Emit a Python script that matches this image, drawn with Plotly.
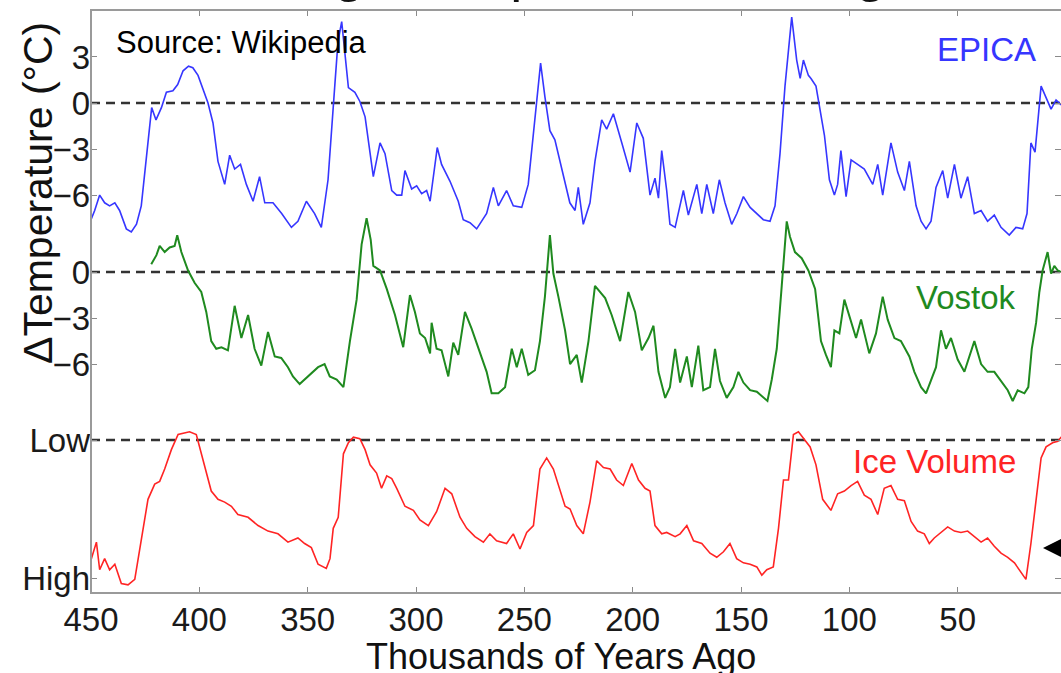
import plotly.graph_objects as go

# ---------------- data ----------------
epica_age = [450, 448.3, 446, 443.7, 441.4, 439, 436.8, 433.7, 431.4, 429, 426.8, 424.5, 422, 420, 417.5, 415.2,
             412.2, 410, 407.5, 405, 403, 400.6, 398.3, 396, 393.7, 391.4, 388.3, 386, 383.7, 381, 378.3, 375.2,
             372.2, 369.8, 366, 362, 357.5, 354.5, 350.6, 346.8, 343.7, 340.6, 337.5, 336, 334.3, 332.8, 331.2,
             328.2, 325.9, 323.5, 319.7, 316.6, 314.3, 311.2, 308.9, 306.6, 305.1, 302, 299.7, 297.4, 295.1, 293.5,
             290.2, 288.2, 284.3, 280.5, 278.2, 275.1, 272, 267.4, 264.3, 262, 258.2, 255.1, 251.2, 248.2, 245.1,
             242.5, 240.5, 238.2, 235.9, 232, 229, 226.6, 225.1, 222.8, 219.7, 217.4, 214.3, 212, 208.9, 205,
             201.2, 198.1, 195.1, 192, 189.7, 188.1, 186.6, 184.3, 182.8, 180.4, 176.6, 174.3, 170.4, 168.1, 165.8,
             162.8, 160, 157.4, 154.3, 151.9, 148.9, 145.8, 142.7, 139.7, 136.6, 134.3, 132, 129.7, 126.6, 124.3,
             122.7, 121.2, 118.9, 117.7, 115.4, 113.9, 111.5, 109.2, 106.9, 105.4, 103.9, 101.5, 99.2, 96.2, 93.1,
             89.2, 86.9, 84.6, 80.8, 77.7, 74.6, 72.3, 69.2, 66.9, 64.6, 62.3, 60, 56.9, 54.6, 51.5, 48.5, 45.4,
             42.3, 39.2, 36.2, 33.1, 30, 26.2, 23.1, 20, 18, 16.2, 14.3, 11.5, 9.2, 6.9, 4.6, 2.3, 0]
epica_temp = [-7.6, -7.0, -6.0, -6.5, -6.7, -6.5, -7.0, -8.2, -8.4, -7.9, -6.7, -3.8, -0.3, -1.1, -0.3, 0.7,
              0.8, 1.2, 2.1, 2.4, 2.3, 1.8, 0.9, 0.0, -1.3, -3.8, -5.3, -3.4, -4.3, -4.0, -5.3, -6.4,
              -4.8, -6.5, -6.5, -7.2, -8.1, -7.7, -6.4, -7.2, -8.1, -5.0, 1.1, 4.0, 5.3, 3.1, 1.0,
              0.7, 0.1, -0.9, -4.8, -2.6, -3.3, -5.7, -6.0, -6.0, -4.4, -5.6, -5.4, -5.9, -5.7, -6.4,
              -2.9, -4.0, -5.1, -6.4, -7.6, -7.8, -8.2, -7.2, -5.5, -6.7, -5.7, -6.7, -6.8, -5.3, -0.9,
              2.6, 0.4, -1.8, -2.4, -4.8, -6.5, -7.0, -5.5, -7.9, -6.5, -3.8, -1.1, -1.7, -0.7, -2.6,
              -4.5, -1.3, -2.3, -6.0, -4.9, -6.2, -3.1, -5.7, -7.9, -8.1, -5.7, -7.3, -5.3, -7.2, -5.3,
              -7.2, -5.0, -6.5, -7.9, -7.2, -6.1, -6.8, -7.2, -7.6, -7.7, -6.7, -3.3, 1.1, 5.6, 2.8,
              1.6, 2.8, 1.8, 1.6, 1.1, -0.1, -2.1, -5.0, -6.0, -5.3, -3.1, -6.1, -3.7, -4.0, -4.3,
              -5.3, -4.0, -6.0, -2.6, -4.5, -5.7, -3.8, -6.7, -7.7, -8.2, -7.7, -5.5, -4.4, -6.2, -4.0, -6.2, -4.8,
              -7.2, -7.0, -7.7, -7.3, -8.1, -8.6, -8.1, -8.2, -7.2, -2.6, -3.2, 1.1, 0.4, -0.4, 0.2, -0.1, 0.0]

vostok_age = [422.2, 419.8, 418.3, 416, 413.7, 411.4, 410.2, 408.3, 405.2, 402.2, 399.1, 396.8, 394.5, 392.2,
              389.8, 386.8, 383.7, 380.6, 377.5, 374.5, 371.4, 368.3, 365.2, 362.2, 359.1, 356.8, 353.7, 349.8,
              345.2, 342.2, 339.8, 336.6, 333.5, 330.5, 327.4, 325.1, 322.8, 320.9, 319.7, 316.6, 313.5, 309.7,
              305.9, 302.8, 300.5, 298.2, 295.8, 293.5, 292.8, 290.5, 288.2, 285.1, 282.8, 280.5, 277.4, 274.3,
              270.5, 267.4, 265.1, 262, 258.9, 255.8, 253.5, 251.2, 248.2, 245.1, 242.8, 240.5, 238.2, 236.6,
              234.3, 231.2, 228.9, 225.8, 223.5, 220.4, 217.4, 215.1, 212.7, 209.7, 205.8, 202, 198.9, 195.8,
              192.7, 190.4, 188.1, 185, 182.8, 180.4, 178.1, 175, 172.7, 169.7, 167.4, 164.3, 162, 159.7, 156.6,
              153.5, 151.2, 148.9, 145.8, 142.7, 139.7, 137.8, 135.8, 133.5, 131.2, 128.9, 127.4, 125.1, 122,
              118.9, 115.8, 113.1, 110.8, 108.5, 106.9, 104.6, 102.3, 99.2, 96.9, 94.6, 90.8, 87.7, 84.6, 82.3,
              79.2, 76.2, 72.3, 70, 66.9, 64.6, 62.3, 60, 57.7, 55.4, 53.1, 50, 46.9, 44.6, 42.3, 39.2, 36.2,
              33.1, 30, 26.9, 24.6, 22.3, 19.2, 17.4, 15.8, 13.8, 12.3, 10.8, 8.5, 6.9, 5.4, 3.8, 2.3, 0.5]
vostok_temp = [0.5, 1.1, 1.7, 1.3, 1.6, 1.7, 2.4, 1.3, 0.1, -0.7, -1.3, -2.6, -4.5, -5.0,
               -4.9, -5.1, -2.2, -4.3, -2.8, -5.0, -6.1, -3.9, -5.5, -5.6, -6.2, -6.8, -7.3, -6.8,
               -6.2, -6.0, -6.8, -7.0, -7.5, -4.5, -1.8, 1.8, 3.5, 2.1, 0.4, 0.1, -1.1, -2.8,
               -4.9, -1.5, -2.6, -4.0, -4.3, -5.3, -3.3, -5.0, -5.1, -6.8, -4.6, -5.4, -2.6, -3.7,
               -5.3, -6.5, -7.9, -7.9, -7.5, -5.0, -6.2, -5.0, -6.7, -6.4, -4.5, -1.6, 2.4, -0.1,
               -1.6, -3.8, -6.0, -5.4, -7.2, -4.5, -0.9, -1.3, -1.7, -2.8, -4.5, -1.3, -2.6, -5.1,
               -4.3, -3.5, -6.5, -8.2, -7.5, -5.0, -7.2, -5.5, -7.5, -4.8, -7.7, -7.5, -5.0, -7.1, -8.2,
               -7.5, -6.5, -7.2, -7.7, -7.8, -8.2, -8.4, -7.0, -5.0, -0.9, 3.3, 2.3, 1.3, 0.9,
               0.1, -1.1, -4.5, -5.4, -6.2, -3.8, -4.0, -1.8, -3.3, -4.3, -3.1, -5.3, -4.0, -1.6, -3.1,
               -4.3, -4.5, -5.5, -6.5, -7.5, -7.9, -7.0, -6.2, -3.8, -5.0, -4.3, -5.7, -6.5, -5.5, -4.5, -6.0, -6.5,
               -6.5, -7.1, -7.7, -8.4, -7.7, -7.9, -7.5, -5.0, -3.3, -1.3, 0.1, 1.3, -0.1, 0.4, 0.1, 0.0, 0.2]

ice_age = [450, 447.5, 446, 443.7, 441.4, 439, 436, 432.9, 429.8, 427.5, 426, 423.7, 420.6, 418.3, 416, 412.9,
           409.8, 406.8, 404.5, 401.4, 399.1, 396.8, 394.5, 391.4, 388.3, 385.2, 382.2, 377.5, 372.9, 368.3,
           363.7, 359.1, 354.5, 351.4, 348.3, 345.2, 341.4, 339.7, 338.2, 335.9, 333.5, 331.2, 328.9, 325.9,
           323.5, 321.2, 318.2, 315.9, 313.5, 311.2, 308.9, 305.1, 301.2, 298.2, 294.3, 290.5, 286.6, 283.5,
           279.7, 276.6, 272.8, 268.9, 265.9, 262.8, 258.2, 255.1, 252, 248.9, 245.8, 242.8, 239.7, 236.6,
           233.5, 231.2, 228.9, 225.8, 222.8, 219.7, 216.6, 213.5, 210.4, 207.4, 204.3, 200.4, 197.3, 194.3,
           192, 189.7, 186.6, 184.3, 180.4, 178.1, 175, 171.9, 168.1, 164.3, 161.2, 158.1, 155.1, 152, 148.9,
           145.8, 142.7, 140.4, 138.1, 135.1, 132.7, 130.4, 128.1, 125.8, 123.5, 121.2, 118.1, 115.4, 112.3,
           108.5, 105.4, 102.3, 99.2, 96.2, 93.1, 90, 86.9, 83.9, 80.8, 77.7, 74.6, 71.5, 68.5, 65.4, 63.1,
           60.8, 57.7, 54.6, 51.5, 48.5, 45.4, 42.3, 39.2, 36.2, 33.1, 30, 26.9, 23.8, 20.8, 18.5, 16.2, 13.8,
           11.5, 9.2, 6.2, 3.8, 2.3, 0]
ice_vol = [0.13, 0.26, 0.06, 0.14, 0.06, 0.10, -0.04, -0.05, -0.01, 0.22, 0.36, 0.57, 0.68, 0.70, 0.79, 0.93,
           1.04, 1.05, 1.06, 1.04, 0.90, 0.76, 0.63, 0.57, 0.55, 0.52, 0.46, 0.44, 0.38, 0.34,
           0.32, 0.26, 0.29, 0.25, 0.22, 0.10, 0.07, 0.14, 0.36, 0.44, 0.90, 0.98, 1.02, 1.01,
           0.93, 0.82, 0.76, 0.65, 0.74, 0.72, 0.65, 0.52, 0.49, 0.42, 0.38, 0.48, 0.65, 0.61,
           0.44, 0.36, 0.30, 0.26, 0.32, 0.27, 0.25, 0.32, 0.21, 0.33, 0.38, 0.79, 0.87, 0.79,
           0.63, 0.52, 0.50, 0.38, 0.32, 0.55, 0.85, 0.80, 0.79, 0.71, 0.67, 0.83, 0.71, 0.65,
           0.63, 0.38, 0.32, 0.33, 0.30, 0.32, 0.38, 0.27, 0.25, 0.18, 0.15, 0.19, 0.25, 0.14, 0.11,
           0.10, 0.08, 0.02, 0.06, 0.08, 0.36, 0.71, 0.71, 1.04, 1.06, 1.01, 0.95, 0.82, 0.57,
           0.49, 0.61, 0.63, 0.67, 0.70, 0.60, 0.57, 0.46, 0.65, 0.67, 0.57, 0.56, 0.41, 0.34, 0.32, 0.25,
           0.29, 0.33, 0.37, 0.34, 0.33, 0.34, 0.30, 0.26, 0.29, 0.23, 0.18, 0.15, 0.11, 0.04, -0.01, 0.25, 0.57,
           0.87, 0.95, 0.98, 0.99, 1.02, 1.02]

x_ticks = [450, 400, 350, 300, 250, 200, 150, 100, 50, 0]
epica_ticks = [3, 0, -3, -6]
vostok_ticks = [0, -3, -6]
ice_ticks = [0, 1]
ice_ticktext = ["High", "Low"]

# ---------------- figure ----------------
FONT = "Liberation Sans, Arial, sans-serif"
W, H = 1061, 673
L, R, T, B = 91, 0, 10, 80
PW, PH = W - L - R, H - T - B


def px(xp):
    return (xp - L) / PW


def py(yp):
    return (H - B - yp) / PH


fig = go.Figure()
fig.add_trace(go.Scatter(x=epica_age, y=epica_temp, mode="lines", yaxis="y",
                         line=dict(color="#3636ff", width=1.6), showlegend=False))
fig.add_trace(go.Scatter(x=vostok_age, y=vostok_temp, mode="lines", yaxis="y2",
                         line=dict(color="#1f8a1f", width=2.0), showlegend=False))
fig.add_trace(go.Scatter(x=ice_age, y=ice_vol, mode="lines", yaxis="y3",
                         line=dict(color="#ff2424", width=1.6), showlegend=False))

tickfont = dict(family=FONT, size=33, color="#1a1a1a")
common_y = dict(showgrid=False, zeroline=False, showline=False, ticks="inside", ticklen=6,
                tickcolor="#8a8a8a", mirror="ticks", tickfont=tickfont, anchor="x", side="left")

fig.update_layout(
    width=W, height=H, margin=dict(l=L, r=R, t=T, b=B),
    paper_bgcolor="white", plot_bgcolor="white",
    xaxis=dict(range=[450, 450 - PW / 2.1667], tickvals=x_ticks, showgrid=False, zeroline=False,
               showline=False, ticks="inside", ticklen=6, tickcolor="#8a8a8a", mirror="ticks",
               tickfont=tickfont, ticklabelstandoff=4),
    yaxis=dict(range=[-31.92, 6.06], tickvals=epica_ticks, **common_y),
    yaxis2=dict(range=[-20.91, 17.07], tickvals=vostok_ticks, overlaying="y", **common_y),
    yaxis3=dict(range=[-0.1087, 4.116], tickvals=ice_ticks, ticktext=ice_ticktext,
                overlaying="y", **common_y),
)

# frame (right edge lies outside the visible window)
fig.add_shape(type="rect", xref="paper", yref="paper", x0=0, x1=1.01, y0=0, y1=1,
              line=dict(color="#9a9a9a", width=2), layer="above")
# dashed reference lines
for yref, yv in [("y", 0), ("y2", 0), ("y3", 1)]:
    fig.add_shape(type="line", xref="paper", yref=yref, x0=0, x1=1, y0=yv, y1=yv,
                  line=dict(color="#333333", width=2.5, dash="9px,6px"), layer="below")

ann = [
    dict(text="Ice Age Temperature Changes", x=px(578), y=py(4), xanchor="center", yanchor="bottom",
         font=dict(family=FONT, size=54, color="#111")),
    dict(text="Source: Wikipedia", x=px(114), y=py(43), xanchor="left", yanchor="middle",
         font=dict(family=FONT, size=31, color="#000")),
    dict(text="EPICA", x=px(986), y=py(50), xanchor="center", yanchor="middle",
         font=dict(family=FONT, size=33, color="#3636ff")),
    dict(text="Vostok", x=px(966), y=py(297), xanchor="center", yanchor="middle",
         font=dict(family=FONT, size=33, color="#1f8a1f")),
    dict(text="Ice Volume", x=px(934), y=py(461), xanchor="center", yanchor="middle",
         font=dict(family=FONT, size=33, color="#ff2424")),
    dict(text="Thousands of Years Ago", x=px(561), y=py(656), xanchor="center", yanchor="middle",
         font=dict(family=FONT, size=36, color="#111")),
    dict(text="\u0394Temperature (\u00b0C)", x=px(38), y=py(193), xanchor="center", yanchor="middle",
         textangle=-90, font=dict(family=FONT, size=41, color="#111")),
]
for a in ann:
    fig.add_annotation(xref="paper", yref="paper", showarrow=False, **a)

fig.add_annotation(xref="paper", yref="paper", x=px(1043), y=py(548), text="", showarrow=True,
                   ax=45, ay=0, arrowhead=2, arrowsize=2.4, arrowwidth=2, arrowcolor="#000")

fig.write_html("out.html")
